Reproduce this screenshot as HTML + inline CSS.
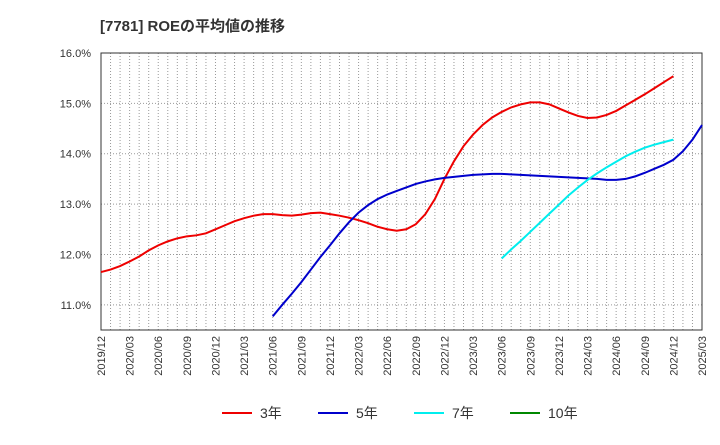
<!DOCTYPE html>
<html><head><meta charset="utf-8"><style>
body{margin:0;background:#fff;font-family:"Liberation Sans","Noto Sans CJK JP",sans-serif}
</style></head><body>
<svg id="c" width="720" height="440" xmlns="http://www.w3.org/2000/svg" style="font-family:'Liberation Sans','Noto Sans CJK JP',sans-serif">
<text x="100" y="31" font-size="15" font-weight="bold" fill="#333">[7781]  ROEの平均値の推移</text>
<g id="grid"></g><g id="axes"></g><g id="series"></g>
<g font-size="14" fill="#333">
<line x1="222" y1="413" x2="252" y2="413" stroke="#e00" stroke-width="2"/><text x="260" y="418">3年</text>
<line x1="318" y1="413" x2="348" y2="413" stroke="#00c" stroke-width="2"/><text x="356" y="418">5年</text>
<line x1="414" y1="413" x2="444" y2="413" stroke="#0ee" stroke-width="2"/><text x="452" y="418">7年</text>
<line x1="510" y1="413" x2="540" y2="413" stroke="#080" stroke-width="2"/><text x="548" y="418">10年</text>
</g>
</svg>
<script>
const xTicks=["2019/12","2020/03","2020/06","2020/09","2020/12","2021/03","2021/06","2021/09","2021/12","2022/03","2022/06","2022/09","2022/12","2023/03","2023/06","2023/09","2023/12","2024/03","2024/06","2024/09","2024/12","2025/03"];
const yTicks=[11,12,13,14,15,16];
// monthly values, index 0 = 2019/12
const s3Start=0;
const s3=[11.65,11.7,11.77,11.86,11.96,12.08,12.18,12.26,12.32,12.36,12.38,12.42,12.5,12.58,12.66,12.72,12.77,12.8,12.8,12.78,12.77,12.79,12.82,12.83,12.8,12.77,12.73,12.68,12.62,12.55,12.5,12.47,12.5,12.6,12.8,13.1,13.5,13.85,14.15,14.38,14.57,14.72,14.83,14.92,14.98,15.02,15.02,14.98,14.9,14.82,14.75,14.71,14.72,14.77,14.85,14.96,15.07,15.18,15.3,15.42,15.54];
const s5Start=18;
const s5=[10.77,11.0,11.22,11.45,11.7,11.95,12.18,12.42,12.64,12.83,12.98,13.1,13.19,13.26,13.33,13.4,13.45,13.49,13.52,13.54,13.56,13.58,13.59,13.6,13.6,13.59,13.58,13.57,13.56,13.55,13.54,13.53,13.52,13.51,13.5,13.48,13.48,13.5,13.55,13.62,13.7,13.78,13.88,14.05,14.28,14.57];
const s7Start=42;
const s7=[11.92,12.1,12.27,12.45,12.63,12.81,12.99,13.17,13.33,13.48,13.61,13.73,13.84,13.95,14.04,14.12,14.18,14.23,14.28];
const NS="http://www.w3.org/2000/svg";
const L=101,R=702,T=53,B=330;
const xm=i=>L+(R-L)*i/63;
const yv=v=>T+(16-v)*(B-T)/5.5;
function mk(tag,attrs,parent){const e=document.createElementNS(NS,tag);for(const k in attrs)e.setAttribute(k,attrs[k]);document.getElementById(parent).appendChild(e);return e;}
for(let i=1;i<63;i++){const l=mk('line',{x1:xm(i),x2:xm(i),y1:T,y2:B,stroke:'#999','stroke-dasharray':'1,2','stroke-width':1},'grid');

}
yTicks.forEach(v=>{const l=mk('line',{x1:L,x2:R,y1:yv(v),y2:yv(v),stroke:'#999','stroke-dasharray':'1,2'},'grid');


const t=mk('text',{x:L-10,y:yv(v)+4,'text-anchor':'end','font-size':11,fill:'#333'},'axes');t.textContent=v.toFixed(1)+'%';

});
const fr=mk('rect',{x:L,y:T,width:R-L,height:B-T,fill:'none',stroke:'#333'},'axes');


xTicks.forEach((s,i)=>{const x=xm(i*3);const t=mk('text',{x:x+4,y:B+6,'text-anchor':'end','font-size':11,fill:'#333',transform:`rotate(-90 ${x+4} ${B+6})`},'axes');t.textContent=s;

});
function line(arr,start,color,name){const p=mk('polyline',{points:arr.map((v,i)=>xm(start+i)+','+yv(v)).join(' '),fill:'none',stroke:color,'stroke-width':2},'series');

}
line(s3,s3Start,'#e00','series-3y');
line(s5,s5Start,'#00c','series-5y');
line(s7,s7Start,'#0ee','series-7y');
</script>
</body></html>
